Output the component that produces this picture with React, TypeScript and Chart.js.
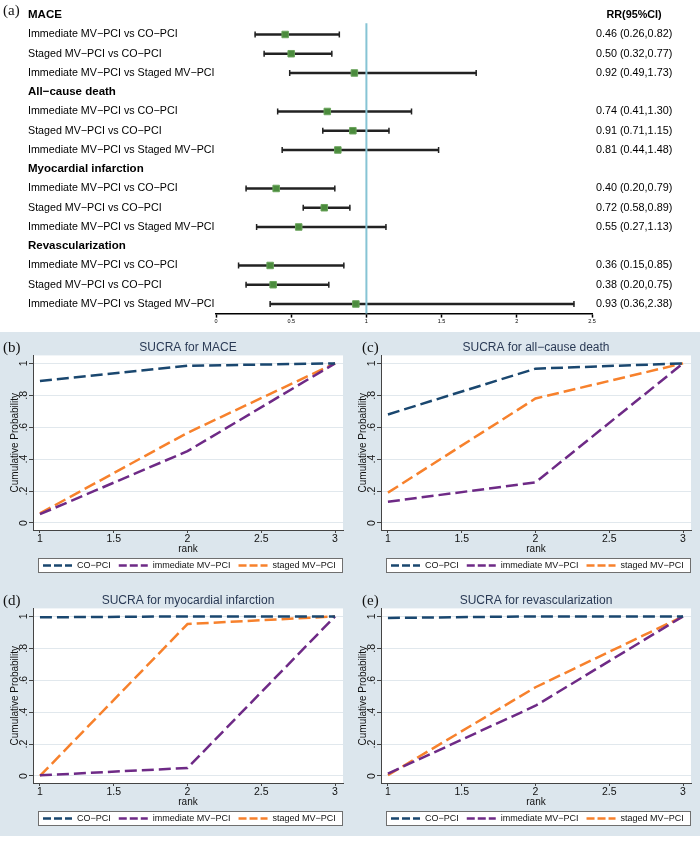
import React, { useEffect, useRef } from 'react';
import { Chart, registerables } from 'chart.js';

Chart.register(...registerables);

const FONT = '"Liberation Sans", Arial, Helvetica, sans-serif';
const SERIF = '"Liberation Serif", "Times New Roman", serif';

// ---------- Panel (a): forest plot data ----------
const outcomeGroups = ['MACE', 'All−cause death', 'Myocardial infarction', 'Revascularization'];
const comparisons = [
  'Immediate MV−PCI vs CO−PCI',
  'Staged MV−PCI vs CO−PCI',
  'Immediate MV−PCI vs Staged MV−PCI',
];
const rrPoint = [0.46, 0.50, 0.92, 0.74, 0.91, 0.81, 0.40, 0.72, 0.55, 0.36, 0.38, 0.93];
const rrLow = [0.26, 0.32, 0.49, 0.41, 0.71, 0.44, 0.20, 0.58, 0.27, 0.15, 0.20, 0.36];
const rrHigh = [0.82, 0.77, 1.73, 1.30, 1.15, 1.48, 0.79, 0.89, 1.13, 0.85, 0.75, 2.38];
const rrHeader = 'RR(95%CI)';
const forestTicks = [0, 0.5, 1, 1.5, 2, 2.5];
const nullEffect = 1;

// ---------- Panels (b)-(e): SUCRA data ----------
const ranks = [1, 2, 3];
const treatments = ['CO−PCI', 'immediate MV−PCI', 'staged MV−PCI'];
const treatmentColors = ['#1a476f', '#6e2a86', '#f7812c'];
const rankTicks = [1, 1.5, 2, 2.5, 3];
const probTicks = [0, 0.2, 0.4, 0.6, 0.8, 1];
const probTickLabels = ['0', '.2', '.4', '.6', '.8', '1'];

const maceCO = [0.89, 0.985, 1.0];
const maceImmediate = [0.055, 0.45, 1.0];
const maceStaged = [0.06, 0.565, 1.0];

const deathCO = [0.68, 0.967, 1.0];
const deathImmediate = [0.133, 0.254, 1.0];
const deathStaged = [0.19, 0.78, 1.0];

const miCO = [0.994, 1.0, 1.0];
const miImmediate = [0.004, 0.05, 1.0];
const miStaged = [0.0, 0.952, 1.0];

const revascCO = [0.99, 1.0, 1.0];
const revascImmediate = [0.015, 0.44, 1.0];
const revascStaged = [0.005, 0.556, 1.0];

const panelTitles = [
  'SUCRA for MACE',
  'SUCRA for all−cause death',
  'SUCRA for myocardial infarction',
  'SUCRA for revascularization',
];

// ---------- Forest plot ----------
function ForestPlot() {
  const ref = useRef<HTMLCanvasElement>(null);
  useEffect(() => {
    const rowLabels: string[] = [];
    const isHeader: boolean[] = [];
    const rightLabels: string[] = [];
    const ciData: any[] = [];
    const pointData: any[] = [];
    const lowCap: any[] = [];
    const highCap: any[] = [];
    let k = 0;
    outcomeGroups.forEach((g, gi) => {
      rowLabels.push(g);
      isHeader.push(true);
      rightLabels.push(gi === 0 ? rrHeader : '');
      ciData.push(null);
      pointData.push(null);
      lowCap.push(null);
      highCap.push(null);
      comparisons.forEach((c) => {
        rowLabels.push(c);
        isHeader.push(false);
        rightLabels.push(
          `${rrPoint[k].toFixed(2)} (${rrLow[k].toFixed(2)},${rrHigh[k].toFixed(2)})`
        );
        ciData.push([rrLow[k], rrHigh[k]]);
        pointData.push(rrPoint[k]);
        lowCap.push(rrLow[k]);
        highCap.push(rrHigh[k]);
        k++;
      });
    });

    const refLine = {
      id: 'refLine',
      afterDatasetsDraw(chart: any) {
        const { ctx, scales, chartArea } = chart;
        const px = scales.x.getPixelForValue(nullEffect);
        const top = scales.y.getPixelForValue(0) + 8;
        ctx.save();
        ctx.strokeStyle = '#86c4d4';
        ctx.lineWidth = 2;
        ctx.beginPath();
        ctx.moveTo(px, top);
        ctx.lineTo(px, chartArea.bottom);
        ctx.stroke();
        ctx.restore();
      },
    };

    const chart = new Chart(ref.current!, {
      type: 'bar',
      data: {
        labels: rowLabels,
        datasets: [
          {
            type: 'bar',
            indexAxis: 'y',
            data: ciData,
            backgroundColor: '#222',
            borderWidth: 0,
            barThickness: 2,
            order: 3,
          } as any,
          {
            type: 'scatter',
            indexAxis: 'y',
            data: lowCap,
            pointStyle: 'line',
            pointRotation: 90,
            pointRadius: 3,
            pointBorderColor: '#222',
            pointBorderWidth: 1.5,
            order: 2,
          } as any,
          {
            type: 'scatter',
            indexAxis: 'y',
            data: highCap,
            pointStyle: 'line',
            pointRotation: 90,
            pointRadius: 3,
            pointBorderColor: '#222',
            pointBorderWidth: 1.5,
            order: 2,
          } as any,
          {
            type: 'scatter',
            indexAxis: 'y',
            data: pointData,
            pointStyle: 'rect',
            pointRadius: 4.6,
            pointBackgroundColor: '#4b8b3d',
            pointBorderColor: '#6aa45c',
            pointBorderWidth: 1,
            order: 1,
          } as any,
        ],
      },
      options: {
        indexAxis: 'y',
        responsive: false,
        animation: false,
        events: [],
        layout: { padding: { left: 28, right: 0, top: 0, bottom: 0 } },
        plugins: {
          legend: { display: false },
          tooltip: { enabled: false },
          title: { display: false },
        },
        scales: {
          x: {
            type: 'linear',
            position: 'bottom',
            min: 0,
            max: 2.5,
            afterBuildTicks: (s: any) => {
              s.ticks = forestTicks.map((v) => ({ value: v }));
            },
            ticks: {
              font: { family: FONT, size: 5.5 },
              color: '#000',
              padding: 1,
              maxRotation: 0,
              autoSkip: false,
              callback: (v: any) => String(v),
            },
            grid: {
              drawOnChartArea: false,
              drawTicks: true,
              tickLength: 4,
              tickColor: '#000',
              tickWidth: 1.5,
            },
            border: { display: true, color: '#000', width: 1.5 },
            afterFit: (s: any) => {
              s.height = 18.4;
              s.paddingLeft = 0;
              s.paddingRight = 0;
            },
          },
          y: {
            type: 'category',
            position: 'left',
            offset: true,
            grid: { display: false, drawTicks: false },
            border: { display: false },
            ticks: {
              autoSkip: false,
              crossAlign: 'far',
              color: '#000',
              font: (ctx: any) => ({
                family: FONT,
                size: isHeader[ctx.index] ? 11.5 : 10.7,
                weight: isHeader[ctx.index] ? 'bold' : 'normal',
              }),
            },
            afterFit: (s: any) => {
              s.width = 188;
              s.paddingTop = 0;
              s.paddingBottom = 0;
            },
          },
          y2: {
            type: 'category',
            labels: rightLabels,
            position: 'right',
            offset: true,
            min: 0,
            max: rightLabels.length - 1,
            grid: { display: false, drawTicks: false },
            border: { display: false },
            ticks: {
              autoSkip: false,
              crossAlign: 'center',
              padding: 4,
              color: '#000',
              font: (ctx: any) => ({
                family: FONT,
                size: 10.8,
                weight: ctx.index === 0 ? 'bold' : 'normal',
              }),
            },
            afterFit: (s: any) => {
              s.width = 108;
              s.paddingTop = 0;
              s.paddingBottom = 0;
            },
          },
        },
      } as any,
      plugins: [refLine],
    });
    return () => chart.destroy();
  }, []);
  return (
    <canvas
      ref={ref}
      width={700}
      height={332}
      style={{ position: 'absolute', left: 0, top: 0, width: 700, height: 332 }}
    />
  );
}

// ---------- SUCRA panel ----------
const plotBg = {
  id: 'plotBg',
  beforeDraw(chart: any) {
    const { ctx, chartArea } = chart;
    ctx.save();
    ctx.fillStyle = '#ffffff';
    ctx.fillRect(chartArea.left, chartArea.top, chartArea.right - chartArea.left, chartArea.bottom - chartArea.top);
    ctx.restore();
  },
};

const legendBox = {
  id: 'legendBox',
  afterDraw(chart: any) {
    const { ctx, chartArea } = chart;
    const left = chartArea.left + 5;
    const right = chartArea.right;
    const top = chart.height - 27;
    const h = 15;
    ctx.save();
    ctx.fillStyle = '#ffffff';
    ctx.fillRect(left, top, right - left, h);
    ctx.strokeStyle = '#6f6f6f';
    ctx.lineWidth = 1;
    ctx.strokeRect(left + 0.5, top + 0.5, right - left - 1, h - 1);
    ctx.font = `9px ${FONT}`;
    ctx.textBaseline = 'middle';
    ctx.textAlign = 'left';
    let x = left + 5;
    const cy = top + h / 2;
    chart.data.datasets.forEach((ds: any) => {
      ctx.strokeStyle = ds.borderColor;
      ctx.lineWidth = 2.5;
      ctx.setLineDash([8, 3]);
      ctx.beginPath();
      ctx.moveTo(x, cy);
      ctx.lineTo(x + 29, cy);
      ctx.stroke();
      ctx.setLineDash([]);
      x += 34;
      ctx.fillStyle = '#111';
      ctx.fillText(ds.label, x, cy + 0.5);
      x += ctx.measureText(ds.label).width + 8;
    });
    ctx.restore();
  },
};

function SucraPanel(props: { title: string; series: number[][]; left: number; top: number }) {
  const ref = useRef<HTMLCanvasElement>(null);
  const { title, series, left, top } = props;
  useEffect(() => {
    const chart = new Chart(ref.current!, {
      type: 'line',
      data: {
        datasets: series.map((vals, i) => ({
          label: treatments[i],
          data: ranks.map((r, j) => ({ x: r, y: vals[j] })),
          borderColor: treatmentColors[i],
          backgroundColor: treatmentColors[i],
          borderDash: [12, 5],
          borderWidth: 2.5,
          pointRadius: 0,
          tension: 0,
          fill: false,
        })),
      },
      options: {
        responsive: false,
        animation: false,
        events: [],
        layout: { padding: { left: 0, right: 7, top: 0, bottom: 30 } },
        plugins: {
          legend: { display: false },
          tooltip: { enabled: false },
          title: {
            display: true,
            fullSize: false,
            text: title,
            color: '#2a3a55',
            font: { family: FONT, size: 12, weight: 'normal' },
            padding: { top: 7, bottom: 1 },
          },
        },
        scales: {
          x: {
            type: 'linear',
            min: 0.953,
            max: 3.054,
            afterBuildTicks: (s: any) => {
              s.ticks = rankTicks.map((v) => ({ value: v }));
            },
            ticks: {
              callback: (v: any) => String(v),
              font: { family: FONT, size: 10.5 },
              color: '#111',
              padding: 0,
              maxRotation: 0,
              autoSkip: false,
            },
            grid: { drawOnChartArea: false, tickLength: 3, tickColor: '#444' },
            border: { color: '#444', width: 1 },
            title: {
              display: true,
              text: 'rank',
              font: { family: FONT, size: 10 },
              color: '#111',
              padding: { top: 0, bottom: 0 },
            },
            afterFit: (s: any) => {
              s.height = 25;
              s.paddingLeft = 0;
              s.paddingRight = 0;
            },
          },
          y: {
            type: 'linear',
            min: -0.044,
            max: 1.05,
            afterBuildTicks: (s: any) => {
              s.ticks = probTicks.map((v) => ({ value: v }));
            },
            ticks: {
              callback: (v: any) => probTickLabels[probTicks.indexOf(v)],
              minRotation: 90,
              maxRotation: 90,
              crossAlign: 'center',
              padding: 1,
              font: { family: FONT, size: 10.5 },
              color: '#111',
              autoSkip: false,
            },
            grid: { color: '#e1e8ed', tickColor: '#444', tickLength: 4, lineWidth: 1 },
            border: { color: '#444', width: 1 },
            title: {
              display: true,
              text: 'Cumulative Probability',
              font: { family: FONT, size: 10 },
              color: '#111',
              padding: { top: 9, bottom: 0 },
            },
            afterFit: (s: any) => {
              s.width = 33;
              s.paddingTop = 0;
              s.paddingBottom = 0;
            },
          },
        },
      } as any,
      plugins: [plotBg, legendBox],
    });
    return () => chart.destroy();
  }, [title, series]);
  return (
    <canvas
      ref={ref}
      width={350}
      height={252}
      style={{ position: 'absolute', left, top, width: 350, height: 252 }}
    />
  );
}

const letterStyle = (left: number, top: number): React.CSSProperties => ({
  position: 'absolute',
  left,
  top,
  fontFamily: SERIF,
  fontSize: 15,
  lineHeight: '16px',
  color: '#111',
  margin: 0,
});

const maceSeries = [maceCO, maceImmediate, maceStaged];
const deathSeries = [deathCO, deathImmediate, deathStaged];
const miSeries = [miCO, miImmediate, miStaged];
const revascSeries = [revascCO, revascImmediate, revascStaged];

export default function App() {
  return (
    <div
      style={{
        position: 'absolute',
        left: 0,
        top: 0,
        width: 700,
        height: 841,
        background: '#ffffff',
        overflow: 'hidden',
      }}
    >
      <ForestPlot />
      <div
        style={{
          position: 'absolute',
          left: 0,
          top: 332,
          width: 700,
          height: 504,
          background: '#dce6ed',
        }}
      />
      <SucraPanel title={panelTitles[0]} series={maceSeries} left={0} top={333} />
      <SucraPanel title={panelTitles[1]} series={deathSeries} left={348} top={333} />
      <SucraPanel title={panelTitles[2]} series={miSeries} left={0} top={586} />
      <SucraPanel title={panelTitles[3]} series={revascSeries} left={348} top={586} />
      <div style={letterStyle(3, 2)}>(a)</div>
      <div style={letterStyle(3, 339)}>(b)</div>
      <div style={letterStyle(362, 339)}>(c)</div>
      <div style={letterStyle(3, 592)}>(d)</div>
      <div style={letterStyle(362, 592)}>(e)</div>
    </div>
  );
}
